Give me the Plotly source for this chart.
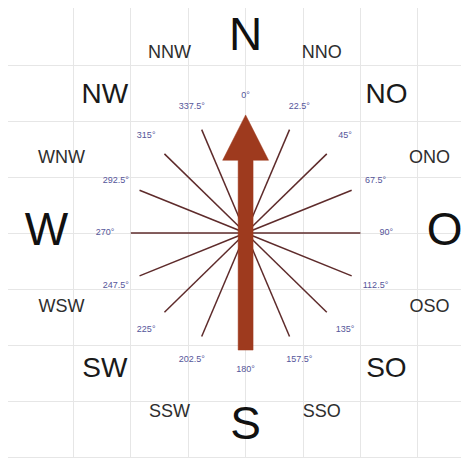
import numpy as np
import plotly.graph_objects as go

# ---- data ----
directions_deg = [0, 22.5, 45, 67.5, 90, 112.5, 135, 157.5, 180, 202.5, 225, 247.5, 270, 292.5, 315, 337.5]
compass_labels = ["N", "NNO", "NO", "ONO", "O", "OSO", "SO", "SSO", "S", "SSW", "SW", "WSW", "W", "WNW", "NW", "NNW"]
degree_labels = ["0°", "22.5°", "45°", "67.5°", "90°", "112.5°", "135°", "157.5°", "180°",
                 "202.5°", "225°", "247.5°", "270°", "292.5°", "315°", "337.5°"]
wind_direction = 0  # arrow points north

# ---- geometry / style ----
ray_r = 2.0
deg_r = 2.45
lab_r = 3.47
FONT = "Liberation Sans, Arial, sans-serif"

fig = go.Figure()

# radial lines
xs, ys = [], []
for d in directions_deg:
    t = np.radians(d)
    xs += [0, ray_r * np.sin(t), None]
    ys += [0, ray_r * np.cos(t), None]
fig.add_trace(go.Scatter(x=xs, y=ys, mode="lines",
                         line=dict(color="#5e2b2b", width=1.5),
                         hoverinfo="skip", showlegend=False))

# degree labels
fig.add_trace(go.Scatter(
    x=[deg_r * np.sin(np.radians(d)) for d in directions_deg],
    y=[deg_r * np.cos(np.radians(d)) for d in directions_deg],
    mode="text", text=degree_labels, cliponaxis=False,
    textfont=dict(family=FONT, size=9, color="#55559a"),
    hoverinfo="skip", showlegend=False))

# compass labels
sizes, colors = [], []
for lab in compass_labels:
    if len(lab) == 1:
        sizes.append(46); colors.append("#111111")
    elif len(lab) == 2:
        sizes.append(28); colors.append("#1a1a1a")
    else:
        sizes.append(18); colors.append("#2e2e2e")
fig.add_trace(go.Scatter(
    x=[lab_r * np.sin(np.radians(d)) for d in directions_deg],
    y=[lab_r * np.cos(np.radians(d)) for d in directions_deg],
    mode="text", text=compass_labels, cliponaxis=False,
    textfont=dict(family=FONT, size=sizes, color=colors),
    hoverinfo="skip", showlegend=False))

# arrow polygon (in arrow-local coords: u across, v along direction)
tip, head_base, tail = 2.11, 1.30, -2.09
shaft_hw, head_hw = 0.13, 0.40
local = [(-shaft_hw, tail), (shaft_hw, tail), (shaft_hw, head_base), (head_hw, head_base),
         (0, tip), (-head_hw, head_base), (-shaft_hw, head_base), (-shaft_hw, tail)]
a = np.radians(wind_direction)
ax_ = [u * np.cos(a) + v * np.sin(a) for u, v in local]
ay_ = [-u * np.sin(a) + v * np.cos(a) for u, v in local]
fig.add_trace(go.Scatter(x=ax_, y=ay_, mode="lines", fill="toself",
                         fillcolor="#9e3a1e", line=dict(color="#9e3a1e", width=0.5),
                         hoverinfo="skip", showlegend=False))

grid = [-3, -2, -1, 0, 1, 2, 3]
fig.update_layout(
    width=459, height=450,
    margin=dict(l=0, r=1, t=0, b=1),
    paper_bgcolor="white", plot_bgcolor="white",
    xaxis=dict(range=[-4.14, 3.84], tickvals=grid, showticklabels=False, ticks="",
               showgrid=True, gridcolor="#e6e6e6", gridwidth=1, zeroline=False,
               showline=True, mirror=True, linecolor="#e6e6e6", linewidth=1, fixedrange=True),
    yaxis=dict(range=[-4.0, 4.02], tickvals=grid, showticklabels=False, ticks="",
               showgrid=True, gridcolor="#e6e6e6", gridwidth=1, zeroline=False,
               showline=True, mirror=True, linecolor="#e6e6e6", linewidth=1, fixedrange=True),
)
fig.write_html("out.html")
